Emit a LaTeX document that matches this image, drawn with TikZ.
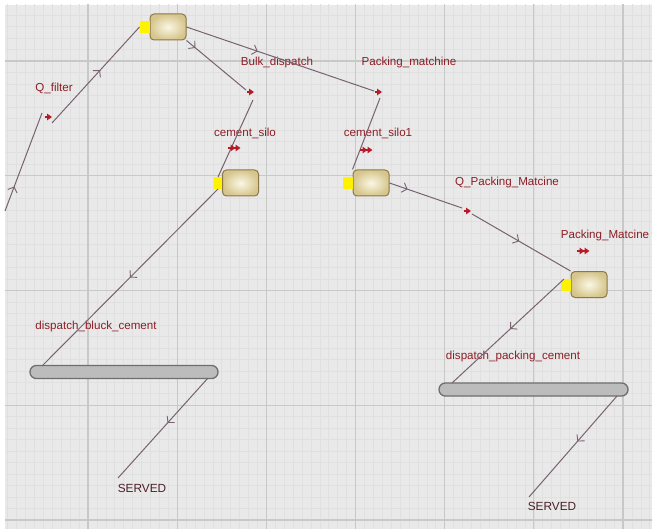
\documentclass[tikz,border=0pt]{standalone}
\usepackage{fontspec}
\setmainfont{Liberation Sans}
\usetikzlibrary{arrows.meta,decorations.markings,positioning}
\definecolor{bgc}{RGB}{233,233,233}
\definecolor{minorc}{RGB}{224,224,224}
\definecolor{majorc}{RGB}{200,200,200}
\definecolor{linec}{RGB}{120,98,112}
\definecolor{labc}{RGB}{140,30,38}
\definecolor{servc}{RGB}{75,32,42}
\definecolor{markc}{RGB}{185,25,40}
\definecolor{boxline}{RGB}{140,120,70}
\definecolor{boxin}{RGB}{251,247,228}
\definecolor{boxout}{RGB}{214,198,142}
\definecolor{barfill}{RGB}{188,188,188}
\definecolor{barline}{RGB}{110,110,110}
\begin{document}
\begin{tikzpicture}[x=1pt,y=-1pt,
  statebox/.style={rounded corners=4, minimum width=36, minimum height=26, inner sep=0,
    draw=boxline, line width=1.0, inner color=boxin, outer color=boxout},
  entrysq/.style={fill=yellow, minimum width=10, minimum height=12, inner sep=0, outer sep=0},
  barbox/.style={rounded corners=6.3, minimum width=188, minimum height=13, inner sep=0,
    fill=barfill, draw=barline, line width=1.3},
  lab/.style={text=labc, font=\fontsize{11.6}{13}\selectfont, inner sep=0, anchor=base},
  servlab/.style={text=servc, font=\fontsize{11.8}{13}\selectfont, inner sep=0, anchor=base},
  conn/.style={draw=linec, line width=1.0},
  chev/.style={postaction={decorate,decoration={markings,
    mark=at position #1 with {\arrow[linec,line width=0.9]{Straight Barb[length=4.5,width=10]}}}}},
  redarr/.pic={\draw[markc, line width=1.5, -{Triangle[length=5,width=6.5]}] (-3.5,0) -- (4,0);},
  redarrtwo/.pic={\draw[markc, line width=1.5, -{Triangle[length=5,width=6.5]Triangle[length=5,width=6.5]}] (-6,0) -- (6.5,0);}
]
\useasboundingbox (0,0) rectangle (655,529);
% background and grid
\fill[white] (0,0) rectangle (655,529);
\fill[bgc] (5,5) rectangle (652,529);
\begin{scope}
\clip (5,5) rectangle (652,529);
\foreach \i in {0,...,74} {\draw[minorc, line width=0.6] ({-1.2+\i*8.917},0) -- ({-1.2+\i*8.917},529);}
\foreach \j in {0,...,52} {\draw[minorc, line width=0.6] (0,{-53.75+\j*11.475}) -- (655,{-53.75+\j*11.475});}
\foreach \i in {0,...,7} {\draw[majorc, line width=1.2] ({-1.2+\i*89.17},0) -- ({-1.2+\i*89.17},529);}
\foreach \j in {0,...,5} {\draw[majorc, line width=1.2] (0,{-53.75+\j*114.75}) -- (655,{-53.75+\j*114.75});}
\end{scope}

% states
\node[statebox] (b1) at (168,27) {};
\node[statebox] (b2) at (240.5,183) {};
\node[statebox] (b3) at (371,183) {};
\node[statebox] (b4) at (589,284.5) {};
\node[entrysq, left=0pt of b1] (y1) {};
\node[entrysq, left=0pt of b2, minimum width=8] (y2) {};
\node[entrysq, left=0pt of b3] (y3) {};
\node[entrysq, left=0pt of b4] (y4) {};
\node[barbox] (bar1) at (124,372) {};
\node[barbox, minimum width=189] (bar2) at (533.5,389.5) {};

% labels
\node[lab] (lqf) at (54,92) {Q\_filter};
\node[lab] (lbd) at (277,66) {Bulk\_dispatch};
\node[lab] (lpm) at (409,66) {Packing\_matchine};
\node[lab] (lcs) at (245,137) {cement\_silo};
\node[lab] (lcs1) at (378,137) {cement\_silo1};
\node[lab] (lqpm) at (507,186) {Q\_Packing\_Matcine};
\node[lab] (lpmc) at (605,238) {Packing\_Matcine};
\node[lab] (ldbc) at (96,329) {dispatch\_bluck\_cement};
\node[lab] (ldpc) at (513,359) {dispatch\_packing\_cement};
\node[servlab] (s1) at (142,492) {SERVED};
\node[servlab] (s2) at (552,510) {SERVED};

% free ends
\coordinate (p0a) at (5,211);
\coordinate (p0b) at (42,113);
\coordinate (p1a) at (52,123);
\coordinate (p2b) at (374,91);
\coordinate (p3b) at (246,90);
\coordinate (p4a) at (253,100);
\coordinate (p5b) at (42,366);
\coordinate (p6a) at (208,378);
\coordinate (p6b) at (118,478);
\coordinate (p7a) at (380,98);
\coordinate (p8b) at (462,208);
\coordinate (p9a) at (472,214);
\coordinate (p10a) at (564,279);
\coordinate (p10b) at (452,383);
\coordinate (p11a) at (617,396);
\coordinate (p11b) at (529,497);

% connectors
\draw[conn, chev=0.25] (p0a) -- (p0b);
\draw[conn, chev=0.55] (p1a) -- (y1.west);
\draw[conn, chev=0.38] (b1.east) -- (p2b);
\draw[conn, chev=0.15] (b1.south east) -- (p3b);
\draw[conn] (p4a) -- (y2.north);
\draw[conn, chev=0.5] (y2.south) -- (p5b);
\draw[conn, chev=0.45] (p6a) -- (p6b);
\draw[conn] (p7a) -- (b3.north west);
\draw[conn, chev=0.25] (b3.east) -- (p8b);
\draw[conn, chev=0.48] (p9a) -- (b4.north west);
\draw[conn, chev=0.48] (p10a) -- (p10b);
\draw[conn, chev=0.45] (p11a) -- (p11b);

% markers
\pic (m0) at (48,117) {redarr};
\pic (m3) at (250,92) {redarr};
\pic (m2) at (378,92) {redarr};
\pic (m8) at (467,211) {redarr};
\pic (d4) at (234,148) {redarrtwo};
\pic (d7) at (366,150) {redarrtwo};
\pic (d9) at (583,251) {redarrtwo};
\end{tikzpicture}
\end{document}
